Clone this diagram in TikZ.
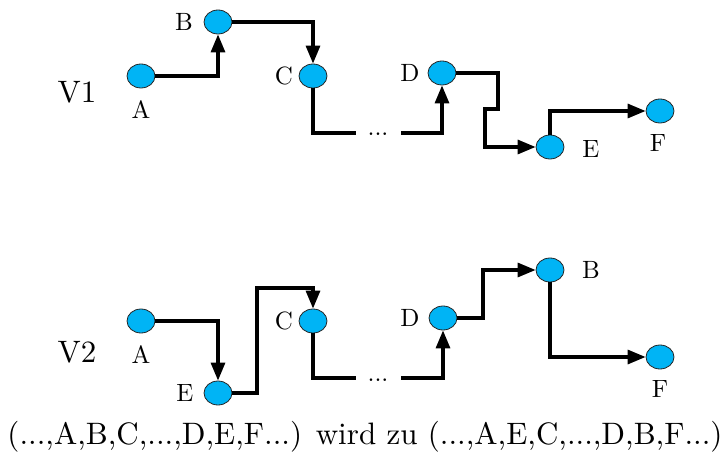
\documentclass[tikz,border=0pt]{standalone}
\usepackage{fontspec}
\usetikzlibrary{arrows.meta,shapes.geometric}
\definecolor{ball}{RGB}{0,180,245}
\newcommand\mylbl[1]{\scalebox{2.5}{#1}}
\newcommand\mybig[1]{\scalebox{3.1}{#1}}
\begin{document}
\begin{tikzpicture}[x=1pt,y=-1pt,
  every node/.style={font=\fontsize{10}{12}\selectfont},
  pt/.style={ellipse,draw=black!85,line width=0.8pt,fill=ball,minimum width=28pt,minimum height=24pt,inner sep=0pt},
  con/.style={line width=3.2pt},
  arr/.style={con,-{Triangle[length=18pt,width=14pt]}},
  lab/.style={inner sep=0pt}]
\useasboundingbox (0,0) rectangle (723,457);
% ---------- V1 ----------
\node[lab] (v1) at (77,92) {\mybig{V1}};
\node[pt] (A1) at (141,76) {};
\node[pt] (B1) at (218,22) {};
\node[pt] (C1) at (313,76) {};
\node[pt] (D1) at (442,73) {};
\node[pt] (E1) at (550,147) {};
\node[pt] (F1) at (660,111) {};
\node[lab] (lA1) at (141,110) {\mylbl{A}};
\node[lab] (lB1) at (184,22) {\mylbl{B}};
\node[lab] (lC1) at (284,76) {\mylbl{C}};
\node[lab] (lD1) at (410,73) {\mylbl{D}};
\node[lab] (lE1) at (591,149) {\mylbl{E}};
\node[lab] (lF1) at (658,143) {\mylbl{F}};
\node[lab,anchor=base] (dots1) at (378,136) {\mylbl{...}};
\coordinate (d1in) at (401,133);
\draw[arr] (A1) -- (A1 -| B1) -- (B1);
\draw[arr] (B1) -- (B1 -| C1) -- (C1);
\draw[con] (C1) -- (313,133) -- (356,133);
\draw[arr] (d1in) -- (d1in -| D1) -- (D1);
\draw[arr] (D1) -- (498,73) -- (498,109) -- (485,109) -- (485,147) -- (E1);
\draw[arr] (E1) -- (E1 |- F1) -- (F1);
% ---------- V2 ----------
\node[lab] (v2) at (77,352) {\mybig{V2}};
\node[pt] (A2) at (141,321) {};
\node[pt] (E2) at (218,393) {};
\node[pt] (C2) at (313,321) {};
\node[pt] (D2) at (443,318) {};
\node[pt] (B2) at (550,270) {};
\node[pt] (F2) at (660,357) {};
\node[lab] (lA2) at (141,355) {\mylbl{A}};
\node[lab] (lE2) at (185,393) {\mylbl{E}};
\node[lab] (lC2) at (284,321) {\mylbl{C}};
\node[lab] (lD2) at (410,318) {\mylbl{D}};
\node[lab] (lB2) at (591,270) {\mylbl{B}};
\node[lab] (lF2) at (660,389) {\mylbl{F}};
\node[lab,anchor=base] (dots2) at (378,381) {\mylbl{...}};
\coordinate (d2in) at (401,378);
\draw[arr] (A2) -- (A2 -| E2) -- (E2);
\draw[arr] (E2) -- (257,393) -- (257,288) -- (313,288) -- (C2);
\draw[con] (C2) -- (313,378) -- (356,378);
\draw[arr] (d2in) -- (d2in -| D2) -- (D2);
\draw[arr] (D2) -- (483,318) -- (483,270) -- (B2);
\draw[arr] (B2) -- (B2 |- F2) -- (F2);
% ---------- caption ----------
\node[lab,anchor=base] (cap) at (365,444) {\mybig{(...,A,B,C,...,D,E,F...) wird zu (...,A,E,C,...,D,B,F...)}};
\end{tikzpicture}
\end{document}
